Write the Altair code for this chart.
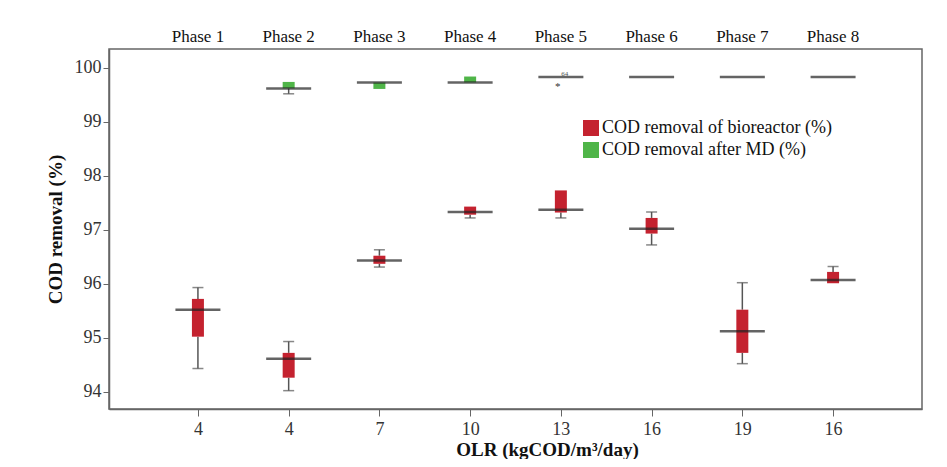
import altair as alt
import pandas as pd

FONT = "Liberation Serif"

phases = [1, 2, 3, 4, 5, 6, 7, 8]
phase_labels = ["Phase 1", "Phase 2", "Phase 3", "Phase 4", "Phase 5", "Phase 6", "Phase 7", "Phase 8"]
olr_labels = ["4", "4", "7", "10", "13", "16", "19", "16"]

# COD removal of bioreactor (%)
bio_min = [94.43, 94.02, 96.31, 97.22, 97.22, 96.72, 94.52, 96.01]
bio_q1 = [95.02, 94.26, 96.37, 97.28, 97.32, 96.93, 94.72, 96.01]
bio_med = [95.52, 94.61, 96.43, 97.33, 97.37, 97.02, 95.12, 96.07]
bio_q3 = [95.72, 94.72, 96.52, 97.43, 97.73, 97.22, 95.52, 96.22]
bio_max = [95.93, 94.93, 96.63, 97.43, 97.73, 97.33, 96.02, 96.32]

# COD removal after MD (%) (phases 2-8)
md_phases = [2, 3, 4, 5, 6, 7, 8]
md_min = [99.52, 99.61, 99.73, 99.83, 99.83, 99.83, 99.83]
md_q1 = [99.62, 99.61, 99.73, 99.83, 99.83, 99.83, 99.83]
md_med = [99.62, 99.73, 99.73, 99.83, 99.83, 99.83, 99.83]
md_q3 = [99.74, 99.73, 99.84, 99.83, 99.83, 99.83, 99.83]
md_max = [99.74, 99.73, 99.84, 99.83, 99.83, 99.83, 99.83]

outlier_phase = [5]
outlier_value = [99.72]
outlier_label = ["64"]

S_BIO = "COD removal of bioreactor (%)"
S_MD = "COD removal after MD (%)"

bio = pd.DataFrame({"phase": phases, "lo": bio_min, "q1": bio_q1, "med": bio_med,
                    "q3": bio_q3, "hi": bio_max, "series": S_BIO})
md = pd.DataFrame({"phase": md_phases, "lo": md_min, "q1": md_q1, "med": md_med,
                   "q3": md_q3, "hi": md_max, "series": S_MD})
df = pd.concat([bio, md], ignore_index=True)

low_w = df[df["lo"] < df["q1"]]
high_w = df[df["hi"] > df["q3"]]
caps = pd.concat([
    pd.DataFrame({"phase": low_w["phase"], "v": low_w["lo"]}),
    pd.DataFrame({"phase": high_w["phase"], "v": high_w["hi"]}),
], ignore_index=True)

ph = pd.DataFrame({"phase": phases, "label": phase_labels})
out = pd.DataFrame({"phase": outlier_phase, "v": outlier_value, "label": outlier_label})

label_arr = "[" + ",".join("'" + s + "'" for s in olr_labels) + "]"

x_scale = alt.Scale(domain=[0.075, 8.925], nice=False, zero=False)
y_scale = alt.Scale(domain=[93.68, 100.35], nice=False, zero=False)

x_axis = alt.Axis(values=phases, labelExpr=label_arr + "[datum.value-1]",
                  title="OLR (kgCOD/m³/day)", grid=False, tickSize=7,
                  labelPadding=4, labelFontSize=18, labelColor="#333",
                  titleFontSize=19, titleFontWeight="bold", titleColor="#111",
                  titleX=438, titleY=46, titleAlign="center", titleBaseline="alphabetic",
                  domainColor="#666", tickColor="#666", domainWidth=1.5)
y_axis = alt.Axis(values=[94, 95, 96, 97, 98, 99, 100], title="COD removal (%)", grid=False,
                  tickSize=6, labelPadding=2, labelFontSize=18, labelColor="#333",
                  titleFontSize=19, titleFontWeight="bold", titleColor="#111",
                  titleX=-54, titleY=180, titleAngle=-90, titleAlign="center",
                  titleBaseline="middle", domainColor="#666", tickColor="#666", domainWidth=1.5)

base = alt.Chart(df)

whisk_lo = base.mark_rule(color="#555", strokeWidth=1.5).encode(
    x=alt.X("phase:Q", scale=x_scale, axis=x_axis),
    y=alt.Y("lo:Q", scale=y_scale, axis=y_axis),
    y2="q1:Q",
)
whisk_hi = base.mark_rule(color="#555", strokeWidth=1.5).encode(
    x=alt.X("phase:Q", scale=x_scale), y=alt.Y("q3:Q", scale=y_scale), y2="hi:Q"
)
cap_marks = alt.Chart(caps).mark_tick(orient="horizontal", size=11, thickness=1.5, color="#555").encode(
    x=alt.X("phase:Q", scale=x_scale), y=alt.Y("v:Q", scale=y_scale)
)
boxes = base.mark_bar(size=12).encode(
    x=alt.X("phase:Q", scale=x_scale),
    y=alt.Y("q1:Q", scale=y_scale),
    y2="q3:Q",
    color=alt.Color("series:N",
                    scale=alt.Scale(domain=[S_BIO, S_MD], range=["#c4222f", "#4fb548"]),
                    legend=alt.Legend(title=None, orient="none", legendX=473, legendY=70,
                                      symbolType="square", symbolSize=256, symbolStrokeWidth=0,
                                      symbolOpacity=1, labelFont=FONT, labelFontSize=18,
                                      labelColor="#111", labelOffset=2, rowPadding=4,
                                      padding=0, labelLimit=400)),
)
medians = base.mark_tick(orient="horizontal", size=45, thickness=2.5, color="#222").encode(
    x=alt.X("phase:Q", scale=x_scale), y=alt.Y("med:Q", scale=y_scale)
)
phase_text = alt.Chart(ph).mark_text(fontSize=17, font=FONT, color="#111", baseline="alphabetic").encode(
    x=alt.X("phase:Q", scale=x_scale), y=alt.value(-7), text="label:N"
)
out_star = alt.Chart(out).mark_text(text="*", fontSize=11, font=FONT, color="#333", dx=-3, dy=4).encode(
    x=alt.X("phase:Q", scale=x_scale), y=alt.Y("v:Q", scale=y_scale)
)
out_lab = alt.Chart(out).mark_text(fontSize=7, font=FONT, color="#555", dx=4, dy=-9).encode(
    x=alt.X("phase:Q", scale=x_scale), y=alt.Y("v:Q", scale=y_scale), text="label:N"
)

chart = alt.layer(whisk_lo, whisk_hi, cap_marks, boxes, medians, phase_text, out_star, out_lab).properties(
    width=813, height=360,
    autosize=alt.AutoSizeParams(type="none"),
    padding={"left": 101, "top": 41, "right": 10, "bottom": 50},
).configure(font=FONT).configure_view(stroke="#666", strokeWidth=1.5)

chart.save("out.html", embed_options={"renderer": "svg", "actions": False})
